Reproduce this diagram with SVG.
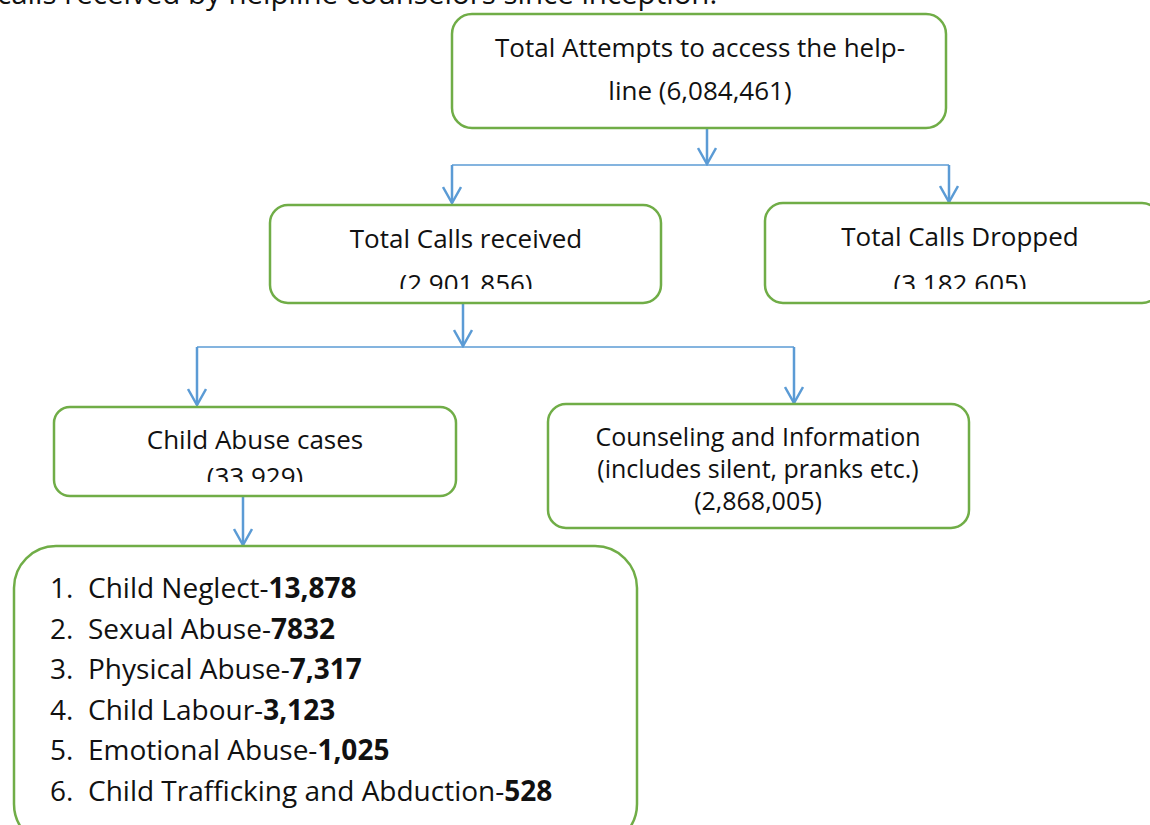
<svg xmlns="http://www.w3.org/2000/svg" width="1150" height="825" viewBox="0 0 1150 825">
<style>
.box{fill:#fff;stroke:#70AD47;stroke-width:2.5}
.t{font-family:"Open Sans","Liberation Sans",sans-serif;font-size:26px;fill:#111;text-anchor:middle}
.s{font-size:25px}
.l{font-family:"Open Sans","Liberation Sans",sans-serif;font-size:28px;fill:#111}
.b{font-weight:bold}
.c{stroke:#5B9BD5;stroke-width:2.5;fill:none}
.h{stroke:#5B9BD5;stroke-width:1.5;fill:none}
</style>
<defs>
<marker id="ah" viewBox="0 0 20 20" refX="18" refY="10" markerWidth="20" markerHeight="20" markerUnits="userSpaceOnUse" orient="auto">
<path d="M2,1 L18,10 L2,19" fill="none" stroke="#5B9BD5" stroke-width="2.5"/>
</marker>
<clipPath id="c2"><rect x="270" y="205" width="392" height="84"/></clipPath>
<clipPath id="c3"><rect x="765" y="203" width="390" height="86"/></clipPath>
<clipPath id="c4"><rect x="54" y="407" width="402" height="75"/></clipPath>
</defs>
<rect width="1150" height="825" fill="#fff"/>
<text x="-3" y="4" font-family="'Open Sans','Liberation Sans',sans-serif" font-size="29.5" fill="#111">calls received by helpline counselors since inception.</text>
<g id="connectors">
<path class="c" d="M707,128 V164" marker-end="url(#ah)"/>
<path class="h" d="M452,165 H949"/>
<path class="c" d="M452,165 V203" marker-end="url(#ah)"/>
<path class="c" d="M949,165 V202" marker-end="url(#ah)"/>
<path class="c" d="M463,288 V346" marker-end="url(#ah)"/>
<path class="h" d="M197,347 H794"/>
<path class="c" d="M197,347 V405" marker-end="url(#ah)"/>
<path class="c" d="M794,347 V403" marker-end="url(#ah)"/>
<path class="c" d="M243,484 V545" marker-end="url(#ah)"/>
</g>
<g id="n1">
<rect class="box" x="452" y="14" width="494" height="114" rx="20"/>
<text class="t" x="700" y="57">Total Attempts to access the help-</text>
<text class="t" x="700" y="100">line (6,084,461)</text>
</g>
<g id="n2">
<rect class="box" x="270" y="205" width="391" height="98" rx="18"/>
<g clip-path="url(#c2)">
<text class="t" x="466" y="248">Total Calls received</text>
<text class="t" x="466" y="293">(2.901.856)</text>
</g>
</g>
<g id="n3">
<rect class="box" x="765" y="203" width="395" height="100" rx="18"/>
<g clip-path="url(#c3)">
<text class="t" x="960" y="246">Total Calls Dropped</text>
<text class="t" x="960" y="293">(3.182.605)</text>
</g>
</g>
<g id="n4">
<rect class="box" x="54" y="407" width="402" height="89" rx="16"/>
<g clip-path="url(#c4)">
<text class="t" x="255" y="449">Child Abuse cases</text>
<text class="t" x="255" y="486">(33.929)</text>
</g>
</g>
<g id="n5">
<rect class="box" x="548" y="404" width="421" height="124" rx="18"/>
<text class="t s" x="758" y="446">Counseling and Information</text>
<text class="t s" x="758" y="478">(includes silent, pranks etc.)</text>
<text class="t s" x="758" y="510">(2,868,005)</text>
</g>
<g id="n6">
<rect class="box" x="14" y="546" width="623" height="300" rx="42"/>
<text class="l" x="50" y="598">1.</text><text class="l" x="88" y="598">Child Neglect-<tspan class="b">13,878</tspan></text>
<text class="l" x="50" y="639">2.</text><text class="l" x="88" y="639">Sexual Abuse-<tspan class="b">7832</tspan></text>
<text class="l" x="50" y="679">3.</text><text class="l" x="88" y="679">Physical Abuse-<tspan class="b">7,317</tspan></text>
<text class="l" x="50" y="720">4.</text><text class="l" x="88" y="720">Child Labour-<tspan class="b">3,123</tspan></text>
<text class="l" x="50" y="760">5.</text><text class="l" x="88" y="760">Emotional Abuse-<tspan class="b">1,025</tspan></text>
<text class="l" x="50" y="801">6.</text><text class="l" x="88" y="801">Child Trafficking and Abduction-<tspan class="b">528</tspan></text>
</g>
</svg>
